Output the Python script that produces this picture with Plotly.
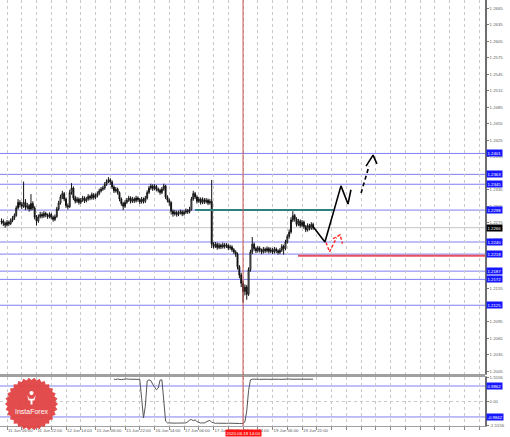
import math
import plotly.graph_objects as go

FONT = "Liberation Sans, Arial, sans-serif"

# ---------------- data (H1 bars, t = hours since 11 Jun 00:00, weekend skipped) -------------
bar_t = list(range(3, 173))
bar_open = [
    1.2276, 1.2278, 1.2274, 1.2271, 1.2276, 1.2273, 1.2279, 1.2283, 1.2288, 1.2302,
    1.2312, 1.2308, 1.2305, 1.2312, 1.2303, 1.2306, 1.2300, 1.2310, 1.2302, 1.2285,
    1.2278, 1.2286, 1.2290, 1.2287, 1.2292, 1.2289, 1.2286, 1.2290, 1.2285, 1.2281,
    1.2286, 1.2300, 1.2311, 1.2322, 1.2328, 1.2318, 1.2306, 1.2304, 1.2330, 1.2338,
    1.2320, 1.2314, 1.2318, 1.2312, 1.2316, 1.2320, 1.2315, 1.2318, 1.2323, 1.2320,
    1.2326, 1.2321, 1.2324, 1.2328, 1.2333, 1.2336, 1.2338, 1.2345, 1.2350, 1.2353,
    1.2349, 1.2340, 1.2333, 1.2336, 1.2330, 1.2318, 1.2310, 1.2305, 1.2312, 1.2316,
    1.2320, 1.2314, 1.2318, 1.2315, 1.2320, 1.2317, 1.2313, 1.2318, 1.2314, 1.2320,
    1.2330, 1.2338, 1.2342, 1.2337, 1.2341, 1.2336, 1.2334, 1.2330, 1.2336, 1.2342,
    1.2322, 1.2316, 1.2312, 1.2296, 1.2291, 1.2294, 1.2290, 1.2293, 1.2295, 1.2291,
    1.2294, 1.2297, 1.2295, 1.2299, 1.2318, 1.2328, 1.2322, 1.2314, 1.2318, 1.2312,
    1.2317, 1.2313, 1.2316, 1.2311, 1.2314, 1.2236, 1.2232, 1.2236, 1.2230, 1.2234,
    1.2231, 1.2235, 1.2232, 1.2234, 1.2229, 1.2231, 1.2226, 1.2222, 1.2218, 1.2195,
    1.2180, 1.2165, 1.2150, 1.2158, 1.2145, 1.2190, 1.2222, 1.2236, 1.2228, 1.2224,
    1.2229, 1.2225, 1.2222, 1.2227, 1.2224, 1.2228, 1.2223, 1.2226, 1.2222, 1.2227,
    1.2224, 1.2221, 1.2225, 1.2232, 1.2228, 1.2240, 1.2250, 1.2258, 1.2280, 1.2288,
    1.2282, 1.2272, 1.2278, 1.2270, 1.2276, 1.2268, 1.2262, 1.2270, 1.2265, 1.2272,
]
bar_high = [
    1.2283, 1.2281, 1.2277, 1.2280, 1.2279, 1.2283, 1.2287, 1.2292, 1.2306, 1.2318,
    1.2316, 1.2313, 1.2350, 1.2318, 1.2311, 1.2309, 1.2327, 1.2314, 1.2305, 1.2289,
    1.2290, 1.2295, 1.2294, 1.2296, 1.2295, 1.2292, 1.2294, 1.2293, 1.2288, 1.2290,
    1.2304, 1.2315, 1.2326, 1.2333, 1.2331, 1.2321, 1.2310, 1.2335, 1.2347, 1.2341,
    1.2324, 1.2322, 1.2321, 1.2320, 1.2324, 1.2323, 1.2322, 1.2327, 1.2326, 1.2330,
    1.2329, 1.2328, 1.2332, 1.2337, 1.2340, 1.2342, 1.2349, 1.2354, 1.2358, 1.2356,
    1.2352, 1.2343, 1.2340, 1.2339, 1.2332, 1.2321, 1.2313, 1.2316, 1.2320, 1.2324,
    1.2323, 1.2322, 1.2321, 1.2324, 1.2323, 1.2320, 1.2322, 1.2321, 1.2324, 1.2334,
    1.2342, 1.2346, 1.2345, 1.2345, 1.2344, 1.2339, 1.2337, 1.2340, 1.2346, 1.2344,
    1.2325, 1.2319, 1.2314, 1.2299, 1.2298, 1.2297, 1.2297, 1.2299, 1.2298, 1.2298,
    1.2301, 1.2300, 1.2304, 1.2322, 1.2333, 1.2331, 1.2325, 1.2322, 1.2321, 1.2321,
    1.2320, 1.2320, 1.2319, 1.2318, 1.2353, 1.2240, 1.2240, 1.2239, 1.2238, 1.2237,
    1.2239, 1.2238, 1.2238, 1.2237, 1.2235, 1.2234, 1.2229, 1.2225, 1.2221, 1.2198,
    1.2184, 1.2170, 1.2163, 1.2162, 1.2194, 1.2226, 1.2249, 1.2239, 1.2231, 1.2233,
    1.2232, 1.2228, 1.2231, 1.2230, 1.2232, 1.2231, 1.2230, 1.2229, 1.2231, 1.2230,
    1.2227, 1.2229, 1.2236, 1.2235, 1.2244, 1.2254, 1.2263, 1.2285, 1.2296, 1.2291,
    1.2285, 1.2282, 1.2281, 1.2280, 1.2279, 1.2271, 1.2274, 1.2273, 1.2276, 1.2275,
]
bar_low = [
    1.2272, 1.2269, 1.2266, 1.2268, 1.2269, 1.2271, 1.2276, 1.2280, 1.2286, 1.2299,
    1.2303, 1.2300, 1.2302, 1.2298, 1.2299, 1.2295, 1.2297, 1.2298, 1.2281, 1.2270,
    1.2275, 1.2283, 1.2283, 1.2284, 1.2285, 1.2282, 1.2283, 1.2281, 1.2277, 1.2278,
    1.2284, 1.2297, 1.2308, 1.2318, 1.2314, 1.2302, 1.2299, 1.2302, 1.2326, 1.2316,
    1.2310, 1.2311, 1.2308, 1.2309, 1.2313, 1.2311, 1.2312, 1.2315, 1.2316, 1.2317,
    1.2317, 1.2318, 1.2321, 1.2325, 1.2330, 1.2333, 1.2335, 1.2342, 1.2347, 1.2344,
    1.2336, 1.2329, 1.2330, 1.2326, 1.2314, 1.2306, 1.2298, 1.2302, 1.2309, 1.2313,
    1.2310, 1.2311, 1.2311, 1.2312, 1.2313, 1.2309, 1.2310, 1.2310, 1.2311, 1.2317,
    1.2327, 1.2335, 1.2333, 1.2334, 1.2332, 1.2330, 1.2326, 1.2327, 1.2333, 1.2318,
    1.2312, 1.2306, 1.2290, 1.2286, 1.2288, 1.2286, 1.2287, 1.2290, 1.2287, 1.2288,
    1.2291, 1.2291, 1.2292, 1.2297, 1.2315, 1.2318, 1.2310, 1.2311, 1.2308, 1.2309,
    1.2309, 1.2310, 1.2307, 1.2308, 1.2229, 1.2228, 1.2229, 1.2226, 1.2227, 1.2227,
    1.2228, 1.2228, 1.2229, 1.2225, 1.2226, 1.2222, 1.2218, 1.2213, 1.2190, 1.2174,
    1.2158, 1.2130, 1.2143, 1.2135, 1.2142, 1.2186, 1.2218, 1.2224, 1.2220, 1.2221,
    1.2221, 1.2218, 1.2219, 1.2220, 1.2221, 1.2219, 1.2220, 1.2218, 1.2219, 1.2220,
    1.2217, 1.2218, 1.2222, 1.2217, 1.2225, 1.2237, 1.2246, 1.2255, 1.2276, 1.2277,
    1.2268, 1.2269, 1.2266, 1.2267, 1.2264, 1.2258, 1.2259, 1.2261, 1.2262, 1.2262,
]
bar_close = [
    1.2278, 1.2274, 1.2271, 1.2276, 1.2273, 1.2279, 1.2283, 1.2288, 1.2302, 1.2312,
    1.2308, 1.2305, 1.2312, 1.2303, 1.2306, 1.2300, 1.2310, 1.2302, 1.2285, 1.2278,
    1.2286, 1.2290, 1.2287, 1.2292, 1.2289, 1.2286, 1.2290, 1.2285, 1.2281, 1.2286,
    1.2300, 1.2311, 1.2322, 1.2328, 1.2318, 1.2306, 1.2304, 1.2330, 1.2338, 1.2320,
    1.2314, 1.2318, 1.2312, 1.2316, 1.2320, 1.2315, 1.2318, 1.2323, 1.2320, 1.2326,
    1.2321, 1.2324, 1.2328, 1.2333, 1.2336, 1.2338, 1.2345, 1.2350, 1.2353, 1.2349,
    1.2340, 1.2333, 1.2336, 1.2330, 1.2318, 1.2310, 1.2305, 1.2312, 1.2316, 1.2320,
    1.2314, 1.2318, 1.2315, 1.2320, 1.2317, 1.2313, 1.2318, 1.2314, 1.2320, 1.2330,
    1.2338, 1.2342, 1.2337, 1.2341, 1.2336, 1.2334, 1.2330, 1.2336, 1.2342, 1.2322,
    1.2316, 1.2312, 1.2296, 1.2291, 1.2294, 1.2290, 1.2293, 1.2295, 1.2291, 1.2294,
    1.2297, 1.2295, 1.2299, 1.2318, 1.2328, 1.2322, 1.2314, 1.2318, 1.2312, 1.2317,
    1.2313, 1.2316, 1.2311, 1.2314, 1.2236, 1.2232, 1.2236, 1.2230, 1.2234, 1.2231,
    1.2235, 1.2232, 1.2234, 1.2229, 1.2231, 1.2226, 1.2222, 1.2218, 1.2195, 1.2180,
    1.2165, 1.2150, 1.2158, 1.2145, 1.2190, 1.2222, 1.2236, 1.2228, 1.2224, 1.2229,
    1.2225, 1.2222, 1.2227, 1.2224, 1.2228, 1.2223, 1.2226, 1.2222, 1.2227, 1.2224,
    1.2221, 1.2225, 1.2232, 1.2228, 1.2240, 1.2250, 1.2258, 1.2280, 1.2288, 1.2282,
    1.2272, 1.2278, 1.2270, 1.2276, 1.2268, 1.2262, 1.2270, 1.2265, 1.2272, 1.2266,
]

# oscillator in the lower window
ind_t = list(range(64, 173))
ind_val = [
    1.42, 1.40, 1.43, 1.40, 1.39, 1.41, 1.43, 1.44, 1.42, 1.42, 1.42, 1.43, 1.42, 1.42, 1.41,
    0.20, -1.05, -0.30, 1.30, 1.38, 1.33, 1.10, 0.90, 0.75, 0.85, 1.36, 1.38, 0.20, -1.25, -1.36,
    -1.37, -1.38, -1.37, -1.38, -1.38, -1.37, -1.38, -1.38, -1.37, -1.36,
    -1.30, -1.18, -1.15, -1.22, -1.17, -1.28, -1.35, -1.37, -1.36, -1.37,
    -1.30, -1.25, -1.20, -1.32, -1.38, -1.39, -1.38, -1.39, -1.38, -1.39,
    -1.38, -1.39, -1.38, -1.39, -1.39, -1.38, -1.39, -1.39, -1.40, -1.40,
    -1.40, -1.30, -0.60, 0.70, 1.38, 1.42,
    1.43, 1.42, 1.42, 1.41, 1.42, 1.43, 1.42, 1.42, 1.41, 1.42, 1.42, 1.43, 1.42, 1.42, 1.41,
    1.42, 1.44, 1.45, 1.44, 1.43, 1.42, 1.42, 1.43, 1.42, 1.41, 1.42, 1.42, 1.43, 1.42, 1.42,
    1.42, 1.41, 1.42,
]
ind_levels = [0.9862, -0.9842]
ind_ticks = [1.5556, 0.0, -1.5556]
ind_tick_text = ["1.5556", "0.00", "-1.5556"]

# support / resistance levels
levels = [1.2401, 1.2363, 1.2345, 1.2298, 1.2240, 1.2218, 1.2187, 1.2172, 1.2125]
level_text = ["1.2401", "1.2363", "1.2345", "1.2298", "1.2240", "1.2218", "1.2187", "1.2172", "1.2125"]
last_price = 1.2266
key_level_t = [108.0, 182.8]     # teal level
key_level_p = 1.2298
stop_level_t = [163.8, 265.2]    # red level
stop_level_p = 1.2215

# hand drawn forecast
fc_main_t = [171.9, 178.4, 187.1, 190.9, 192.5]
fc_main_p = [1.2268, 1.2240, 1.2342, 1.2309, 1.2335]
fc_next_t = [198.0, 202.3]
fc_next_p = [1.2329, 1.2378]
fc_next_head_t = [200.7, 204.5, 206.6]
fc_next_head_p = [1.2378, 1.2398, 1.2382]
fc_alt_t = [179.0, 180.9, 184.7]
fc_alt_p = [1.2239, 1.2222, 1.2248]
fc_alt_head_t = [182.8, 186.6, 187.9]
fc_alt_head_p = [1.2246, 1.2253, 1.2237]

# axes
price_ticks = [1.2665, 1.2635, 1.2605, 1.2575, 1.2545, 1.2515, 1.2485, 1.2455, 1.2425,
               1.2395, 1.2335, 1.2305, 1.2275, 1.2245, 1.2155, 1.2095, 1.2065,
               1.2035, 1.2005]
price_grid = [1.2665, 1.2635, 1.2605, 1.2575, 1.2545, 1.2515, 1.2485, 1.2455, 1.2425,
              1.2395, 1.2365, 1.2335, 1.2305, 1.2275, 1.2245, 1.2215, 1.2185, 1.2155,
              1.2125, 1.2095, 1.2065, 1.2035, 1.2005]
time_ticks = [6, 14, 22, 30, 38, 46, 54, 62, 70, 78, 86, 94, 102, 110, 118, 126,
              134, 142, 150, 158, 166, 174, 182, 190, 198, 206, 214, 222, 230, 238, 246, 254, 262]
time_text = ["11 Jun 06:00", "", "11 Jun 22:00", "", "12 Jun 14:00", "", "15 Jun 06:00", "",
             "15 Jun 22:00", "", "16 Jun 14:00", "", "17 Jun 06:00", "", "17 Jun 22:00", "",
             "18 Jun 14:00", "", "19 Jun 06:00", "", "19 Jun 22:00", "", "", "", "", "", "",
             "", "", "", "", "", ""]
cursor_t = 134
cursor_text = "2020.06.18 14:00"

# ---------------- figure ----------------
W, H = 510, 437
ML, MR, MT, MB = 0, 25, 0, 11
PW, PH = W - ML - MR, H - MT - MB
X_RANGE = [2.2, 265.2]
Y_RANGE = [1.2000, 1.2680]

BLUE_LINE = "#7f7ff5"
GRID = "#c9c9c9"
TXT = "#5a5a5a"

fig = go.Figure()

fig.add_trace(go.Candlestick(
    x=bar_t, open=bar_open, high=bar_high, low=bar_low, close=bar_close,
    increasing=dict(line=dict(color="#111111", width=1), fillcolor="#ffffff"),
    decreasing=dict(line=dict(color="#111111", width=1), fillcolor="#111111"),
    whiskerwidth=0, showlegend=False, hoverinfo="skip", xaxis="x", yaxis="y"))

fig.add_trace(go.Scatter(x=ind_t, y=ind_val, mode="lines",
                         line=dict(color="#555555", width=1), xaxis="x2", yaxis="y2",
                         showlegend=False, hoverinfo="skip"))

# key levels and forecast drawings
fig.add_trace(go.Scatter(x=key_level_t, y=[key_level_p] * 2, mode="lines",
                         line=dict(color="#2d7f80", width=2), showlegend=False, hoverinfo="skip"))
fig.add_trace(go.Scatter(x=stop_level_t, y=[stop_level_p] * 2, mode="lines",
                         line=dict(color="#e8505e", width=2), showlegend=False, hoverinfo="skip"))
fig.add_trace(go.Scatter(x=fc_main_t, y=fc_main_p, mode="lines",
                         line=dict(color="#000000", width=1.6), showlegend=False, hoverinfo="skip"))
fig.add_trace(go.Scatter(x=fc_next_t, y=fc_next_p, mode="lines",
                         line=dict(color="#000000", width=1.6, dash="4px,3px"), showlegend=False, hoverinfo="skip"))
fig.add_trace(go.Scatter(x=fc_next_head_t, y=fc_next_head_p, mode="lines",
                         line=dict(color="#000000", width=1.6), showlegend=False, hoverinfo="skip"))
fig.add_trace(go.Scatter(x=fc_alt_t, y=fc_alt_p, mode="lines",
                         line=dict(color="#ff2020", width=1.4, dash="3px,2px"), showlegend=False, hoverinfo="skip"))
fig.add_trace(go.Scatter(x=fc_alt_head_t, y=fc_alt_head_p, mode="lines",
                         line=dict(color="#ff2020", width=1.4, dash="3px,2px"), showlegend=False, hoverinfo="skip"))

shapes = []
annotations = []
for lv, txt in zip(levels, level_text):
    shapes.append(dict(type="line", xref="paper", yref="y", x0=0, x1=1, y0=lv, y1=lv,
                       line=dict(color=BLUE_LINE, width=1), layer="below"))
    annotations.append(dict(xref="paper", yref="y", x=1, y=lv, xanchor="left", yanchor="middle",
                            xshift=1, text=txt, showarrow=False, bgcolor="#1717ff",
                            font=dict(family=FONT, size=4.3, color="#ffffff"), borderpad=0.5))
shapes.append(dict(type="line", xref="paper", yref="y", x0=0, x1=1, y0=last_price, y1=last_price,
                   line=dict(color="#c4c4c4", width=1), layer="below"))
annotations.append(dict(xref="paper", yref="y", x=1, y=last_price, xanchor="left", yanchor="middle",
                        xshift=1, text=f"{last_price:.4f}", showarrow=False, bgcolor="#000000",
                        font=dict(family=FONT, size=4.3, color="#ffffff"), borderpad=0.5))
for lv in ind_levels:
    shapes.append(dict(type="line", xref="paper", yref="y2", x0=0, x1=1, y0=lv, y1=lv,
                       line=dict(color=BLUE_LINE, width=1), layer="below"))
    annotations.append(dict(xref="paper", yref="y2", x=1, y=lv, xanchor="left", yanchor="middle",
                            xshift=1, text=f"{lv:.4f}", showarrow=False, bgcolor="#1717ff",
                            font=dict(family=FONT, size=4.3, color="#ffffff"), borderpad=0.5))

# vertical cursor line through both windows
shapes.append(dict(type="line", xref="x", yref="paper", x0=cursor_t, x1=cursor_t, y0=0, y1=1,
                   line=dict(color="#c85050", width=1)))
annotations.append(dict(xref="x", yref="paper", x=cursor_t, y=0, yanchor="top", xanchor="center",
                        yshift=-2.5, text=cursor_text, showarrow=False, bgcolor="#ff1010",
                        font=dict(family=FONT, size=4.3, color="#ffffff"), borderpad=0.6))

# separator between the two windows
shapes.append(dict(type="line", xref="paper", yref="paper", x0=0, x1=1,
                   y0=(PH - 375.5) / PH, y1=(PH - 375.5) / PH, line=dict(color="#a0a0a0", width=1)))

# ---- InstaForex badge (decoration) ----
def to_paper(px, py):
    return px / PW, (PH - py) / PH

cx, cy, r_out, r_in, teeth = 31.5, 404.0, 26.5, 24.0, 30
pts = []
for k in range(2 * teeth):
    a = math.pi * k / teeth
    r = r_out if k % 2 == 0 else r_in
    pts.append(to_paper(cx + r * math.cos(a), cy + r * math.sin(a)))
badge = "M " + " L ".join(f"{x:.5f},{y:.5f}" for x, y in pts) + " Z"
shapes.append(dict(type="path", xref="paper", yref="paper", path=badge,
                   fillcolor="#e04242", line=dict(width=0), opacity=0.95))
# small white emblem
hx0, hy0 = to_paper(cx - 2.1, 391.0)
hx1, hy1 = to_paper(cx + 2.1, 395.2)
shapes.append(dict(type="circle", xref="paper", yref="paper", x0=hx0, y0=hy0, x1=hx1, y1=hy1,
                   fillcolor="#ffffff", line=dict(width=0)))
body = [to_paper(cx - 4.3, 395.0), to_paper(cx - 2.9, 400.5), to_paper(cx - 1.0, 400.5),
        to_paper(cx - 1.0, 404.5), to_paper(cx + 1.0, 404.5), to_paper(cx + 1.0, 400.5),
        to_paper(cx + 2.9, 400.5), to_paper(cx + 4.3, 395.0), to_paper(cx + 2.0, 398.7),
        to_paper(cx - 2.0, 398.7)]
shapes.append(dict(type="path", xref="paper", yref="paper",
                   path="M " + " L ".join(f"{x:.5f},{y:.5f}" for x, y in body) + " Z",
                   fillcolor="#ffffff", line=dict(width=0)))
tx, ty = to_paper(cx, 411.5)
annotations.append(dict(xref="paper", yref="paper", x=tx, y=ty, text="InstaForex", showarrow=False,
                        xanchor="center", yanchor="middle",
                        font=dict(family=FONT, size=7, color="#ffffff")))

main_bottom = (PH - 374) / PH
ind_top = (PH - 377) / PH

fig.update_layout(
    width=W, height=H, margin=dict(l=ML, r=MR, t=MT, b=MB, pad=0),
    paper_bgcolor="#ffffff", plot_bgcolor="#ffffff", showlegend=False,
    font=dict(family=FONT, size=4.3, color=TXT),
    shapes=shapes, annotations=annotations, hovermode=False,
    xaxis=dict(domain=[0, 1], anchor="y", range=X_RANGE, rangeslider=dict(visible=False),
               tickmode="array", tickvals=time_ticks, ticktext=[""] * len(time_ticks),
               showticklabels=False, ticks="", showgrid=True, gridcolor=GRID, griddash="dot",
               gridwidth=1, zeroline=False, showline=True, linecolor="#a0a0a0", linewidth=1,
               automargin=False, fixedrange=True),
    yaxis=dict(domain=[main_bottom, 1], anchor="x", side="right", range=Y_RANGE,
               tickmode="array", tickvals=price_ticks, ticktext=[f"{v:.4f}" for v in price_ticks],
               ticks="outside", ticklen=2, tickcolor="#777777", showgrid=False,
               zeroline=False, showline=True, linecolor="#6e6e6e", linewidth=1.5,
               automargin=False, tickfont=dict(family=FONT, size=4.3, color=TXT), fixedrange=True),
    yaxis3=dict(domain=[main_bottom, 1], anchor="x", overlaying="y", side="right",
                range=Y_RANGE, tickmode="array", tickvals=price_grid, showticklabels=False,
                ticks="", showgrid=True, gridcolor=GRID, griddash="dot", zeroline=False,
                showline=False, automargin=False),
    xaxis2=dict(domain=[0, 1], anchor="y2", range=X_RANGE, matches="x",
                tickmode="array", tickvals=time_ticks, ticktext=time_text, tickangle=0,
                ticklabelposition="outside right", ticks="outside", ticklen=2.5,
                tickcolor="#888888", showgrid=True, gridcolor=GRID, griddash="dot",
                zeroline=False, showline=True, mirror=True, linecolor="#a0a0a0", linewidth=1,
                automargin=False, tickfont=dict(family=FONT, size=4.3, color=TXT),
                rangeslider=dict(visible=False), fixedrange=True),
    yaxis2=dict(domain=[0, ind_top], anchor="x2", side="right", range=[-1.56, 1.56],
                tickmode="array", tickvals=ind_ticks, ticktext=ind_tick_text,
                ticks="outside", ticklen=2, tickcolor="#777777", showgrid=True,
                gridcolor=GRID, griddash="dot", zeroline=False, showline=True,
                linecolor="#6e6e6e", linewidth=1.5, automargin=False,
                tickfont=dict(family=FONT, size=4.3, color=TXT), fixedrange=True),
)

fig.write_html("out.html", config={"displayModeBar": False},
               post_script="document.body.style.margin='0px';document.body.style.overflow='hidden';")
